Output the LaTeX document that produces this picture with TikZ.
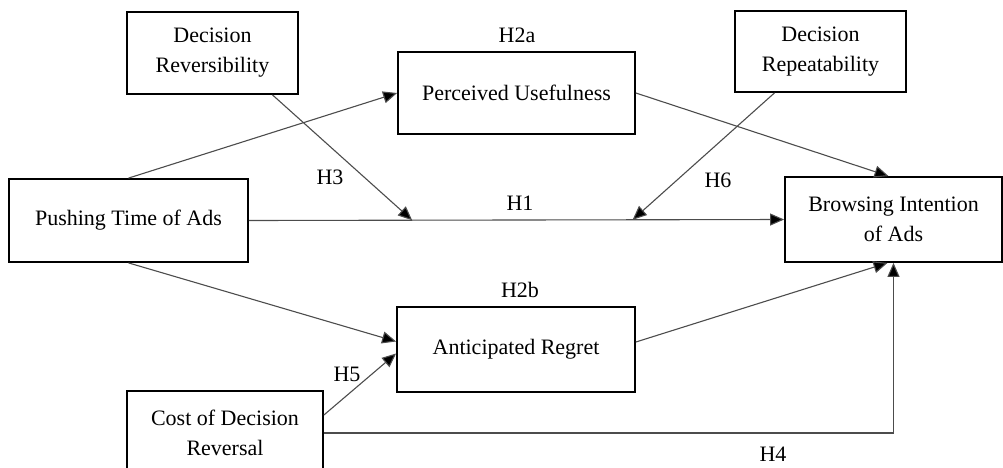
\documentclass[tikz,border=0pt]{standalone}
\usepackage{fontspec}
\setmainfont{Liberation Serif}
\usepackage{tikz}
\usetikzlibrary{arrows.meta}
\usetikzlibrary{positioning}
\usetikzlibrary{calc}

\begin{document}
\begin{tikzpicture}[x=0.5pt, y=-0.5pt,
    var/.style 2 args={
      rectangle,
      draw=black,
      line width=0.9pt,
      align=center,
      minimum width=#1*0.5pt,
      minimum height=#2*0.5pt,
      inner sep=0pt,
      font=\fontsize{11}{15}\selectfont},
    hyp/.style={font=\fontsize{11}{13}\selectfont, inner sep=0pt},
    path/.style={draw=black!70, line width=0.55pt,
      -{Triangle[length=7pt,width=6pt,fill=black]}},
    link/.style={draw=black!70, line width=0.55pt}]

\clip (0,0) rectangle (1003,467);

% constructs
\node[var={171}{82}] (rev)  at (212.5,53)  {Decision\\Reversibility};
\node[var={237}{82}] (pu)   at (516.5,93)  {Perceived Usefulness};
\node[var={171}{81}] (rep)  at (820.5,51.5) {Decision\\Repeatability};
\node[var={239}{83}] (push) at (128.5,220.5) {Pushing Time of Ads};
\node[var={217}{85}] (bi)   at (893.5,219.5) {Browsing Intention\\of Ads};
\node[var={238}{85}] (ar)   at (516,349.5) {Anticipated Regret};
\node[var={196}{84}] (cost) at (225,433)   {Cost of Decision\\Reversal};

% moderation points on the main path
\coordinate (m1) at ($(push.east)!0.305!(bi.west)$);
\coordinate (m2) at ($(push.east)!0.717!(bi.west)$);

% paths
\draw[path] (push.east) -- (bi.west);
\draw[path] (push.north) -- (pu.west);
\draw[path] (pu.east) -- ($(bi.north)+(-5,0)$);
\draw[path] (push.south) -- ($(ar.west)+(0,-8)$);
\draw[path] ($(ar.east)+(0,-7.5)$) -- ($(bi.south)+(-6,0)$);
\draw[path] ($(rev.south)+(60,0)$) -- (m1);
\draw[path] ($(rep.south)+(-46,0)$) -- (m2);
\draw[path] ($(cost.east)+(0,-18)$) -- ($(ar.west)+(0,4)$);
\draw[path] (cost.east) -| (bi.south);

% hypotheses
\node[hyp] (h1)  at (520,203) {H1};
\node[hyp] (h2a) at (517,35)  {H2a};
\node[hyp] (h2b) at (520,290) {H2b};
\node[hyp] (h3)  at (330,177) {H3};
\node[hyp] (h4)  at (773,454) {H4};
\node[hyp] (h5)  at (347,374) {H5};
\node[hyp] (h6)  at (718,180) {H6};

\end{tikzpicture}
\end{document}
